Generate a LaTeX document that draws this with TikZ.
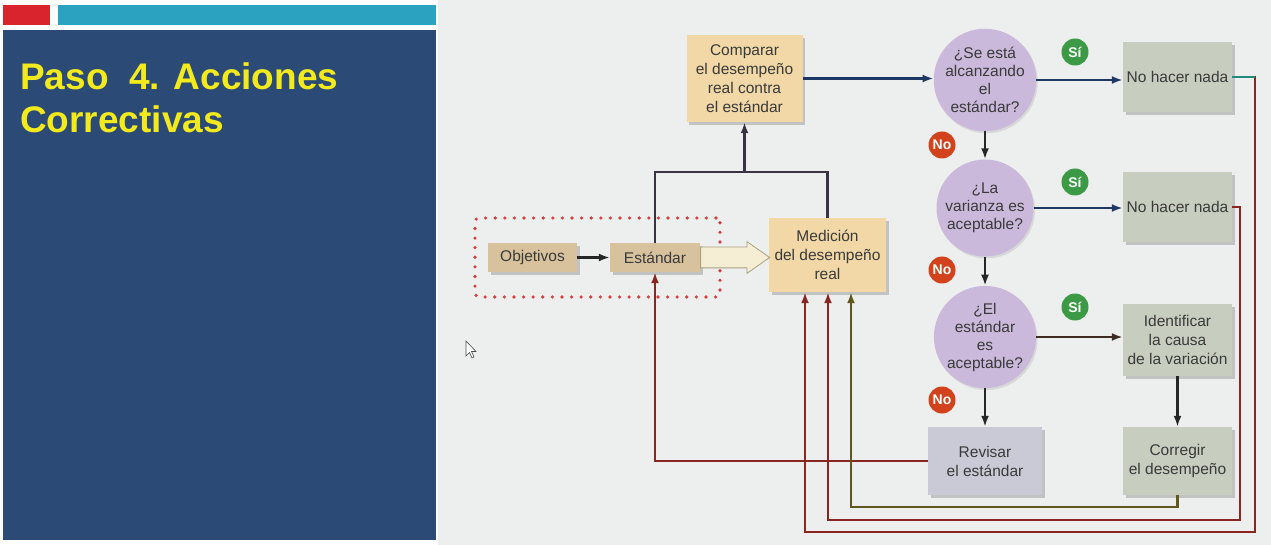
\documentclass[tikz,border=0pt]{standalone}
\usepackage{fontspec}
\setmainfont{Liberation Sans}
\usetikzlibrary{arrows.meta,shapes.arrows,shadows,calc}
\definecolor{slideblue}{HTML}{2B4A76}
\definecolor{slideteal}{HTML}{2BA3C0}
\definecolor{slidered}{HTML}{D9232D}
\definecolor{titleyellow}{HTML}{F2EA1C}
\definecolor{pagebg}{HTML}{EDEFEF}
\definecolor{tan}{HTML}{F1D8A6}
\definecolor{tandark}{HTML}{D8C29D}
\definecolor{lavender}{HTML}{CBB9DC}
\definecolor{sage}{HTML}{C7CDBF}
\definecolor{greyviolet}{HTML}{CACAD6}
\definecolor{badgegreen}{HTML}{3C9A47}
\definecolor{badgered}{HTML}{D2421C}
\definecolor{navy}{HTML}{1E3866}
\definecolor{darkline}{HTML}{3A3242}
\definecolor{brownline}{HTML}{3E2C24}
\definecolor{fbred}{HTML}{8A2622}
\definecolor{fbolive}{HTML}{5E5A1E}
\definecolor{txt}{HTML}{3A3A3A}
\definecolor{dotred}{HTML}{D84040}
\definecolor{arrowdraw}{HTML}{AAA082}
\definecolor{arrowfill}{HTML}{F5EED4}
\definecolor{stubteal}{HTML}{1E8C78}
\tikzset{
  box/.style={rectangle, draw=none, text=txt, align=center, inner sep=2pt,
    font=\fontsize{15.5}{19}\selectfont,
    drop shadow={opacity=0.4, shadow xshift=2.5pt, shadow yshift=-3pt}},
  qcircle/.style={circle, fill=lavender, text=txt, align=center, inner sep=0pt,
    minimum size=97pt, font=\fontsize{15.5}{18}\selectfont,
    drop shadow={opacity=0.2, shadow xshift=1.5pt, shadow yshift=-2pt}},
  badge/.style={circle, minimum size=27pt, inner sep=0pt, text=white,
    font=\fontsize{14}{14}\selectfont\bfseries},
  sibadge/.style={badge, fill=badgegreen},
  nobadge/.style={badge, fill=badgered},
  conn/.style={line width=2.3pt, -{Latex[length=11pt,width=8pt]}},
  plainconn/.style={line width=2.3pt}
}
\begin{document}
\begin{tikzpicture}[x=1pt,y=-1pt]
\useasboundingbox (0,0) rectangle (1271,545);
% backgrounds
\fill[white] (0,0) rectangle (1271,545);
\fill[pagebg] (438,0) rectangle (1271,545);
\fill[slidered] (3,5) rectangle (50,25);
\fill[slideteal] (58,5) rectangle (436,25);
\fill[slideblue] (3,30) rectangle (436,540);
\node[anchor=base west, inner sep=0pt, align=left, text=titleyellow,
  font=\fontsize{37}{43}\selectfont\bfseries] (title) at (20,133)
  {Paso\ \ 4. Acciones\\Correctivas};
% cursor
\draw[fill=white, draw=black!70, line width=0.6pt]
  (466,341) -- (466,356) -- (469.5,352.5) -- (472,358) -- (474,357) -- (471.5,351.5) -- (476,351.5) -- cycle;

% dotted frame
\node[draw=dotred, line width=3.6pt, line cap=round,
  dash pattern=on 0pt off 9.6pt, rounded corners=4pt,
  minimum width=245pt, minimum height=79pt] (frame) at (597.5,257.5) {};

% nodes
\node[box, fill=tan, minimum width=116pt, minimum height=87pt] (comp) at (744.5,78.5)
  {Comparar\\el desempeño\\real contra\\el estándar};
\node[box, fill=tan, minimum width=117pt, minimum height=74pt] (med) at (827.5,255)
  {Medición\\del desempeño\\real};
\node[box, fill=tandark, minimum width=89pt, minimum height=29pt] (obj) at (532.5,257.5) {Objetivos};
\node[box, fill=tandark, minimum width=90pt, minimum height=29pt] (est) at (655,257.5) {Estándar};

\node[qcircle] (q1) at (985,80) {¿Se está\\alcanzando\\el\\estándar?};
\node[qcircle] (q2) at (985,208) {¿La\\varianza es\\aceptable?};
\node[qcircle] (q3) at (985,337) {¿El\\estándar\\es\\aceptable?};

\node[box, fill=sage, minimum width=109pt, minimum height=70pt] (nada1) at (1177.5,77) {No hacer nada};
\node[box, fill=sage, minimum width=109pt, minimum height=70pt] (nada2) at (1177.5,207) {No hacer nada};
\node[box, fill=sage, minimum width=109pt, minimum height=72pt] (ident) at (1177.5,340)
  {Identificar\\la causa\\de la variación};
\node[box, fill=sage, minimum width=109pt, minimum height=68pt] (corr) at (1177.5,461)
  {Corregir\\el desempeño};
\node[box, fill=greyviolet, minimum width=114pt, minimum height=68pt] (rev) at (985,461)
  {Revisar\\el estándar};

\node[sibadge] (si1) at (1075,52) {Sí};
\node[sibadge] (si2) at (1075,182) {Sí};
\node[sibadge] (si3) at (1075,307) {Sí};
\node[nobadge] (no1) at (942,145) {No};
\node[nobadge] (no2) at (942,270) {No};
\node[nobadge] (no3) at (942,400) {No};

% hollow arrow
\node[single arrow, draw=arrowdraw, fill=arrowfill,
  line width=0.8pt, minimum height=69pt, single arrow head extend=5.5pt,
  single arrow tip angle=70, inner sep=10pt, anchor=west] (big) at (est.east) {};

% coordinates
\coordinate (jtop) at (744.5,172);
\coordinate (fb1) at (851,507);
\coordinate (r2) at (1240,520);
\coordinate (fb2) at (828,520);
\coordinate (r1) at (1255,532);
\coordinate (fb3) at (805,532);

% connectors
\draw[conn, black!85] (obj) -- (est);
\draw[plainconn, darkline] (est.north) |- (jtop) -| (med.north);
\draw[conn, darkline] (jtop) -- (comp.south);
\draw[conn, navy] (comp.east) -- (comp.east -| q1.west);
\draw[conn, navy] (q1.east) -- (q1.east -| nada1.west);
\draw[conn, navy] (q2.east) -- (q2.east -| nada2.west);
\draw[conn, brownline] (q3.east) -- (q3.east -| ident.west);
\draw[conn, black!85] (q1.south) -- (q2.north);
\draw[conn, black!85] (q2.south) -- (q3.north);
\draw[conn, black!85] (q3.south) -- (rev.north);
\draw[conn, black!85] (ident.south) -- (corr.north);

% feedback loops
\draw[conn, fbred] (rev.west) -| (est.south);
\draw[conn, fbolive] (corr.south) |- (fb1) -- (fb1 |- med.south);
\draw[conn, fbred] (nada2.east) -| (r2) -- (fb2) -- (fb2 |- med.south);
\draw[conn, fbred] (nada1.east) -| (r1) -- (fb3) -- (fb3 |- med.south);
\draw[plainconn, stubteal] (nada1.east) -- (nada1.east -| r1);
\end{tikzpicture}
\end{document}
